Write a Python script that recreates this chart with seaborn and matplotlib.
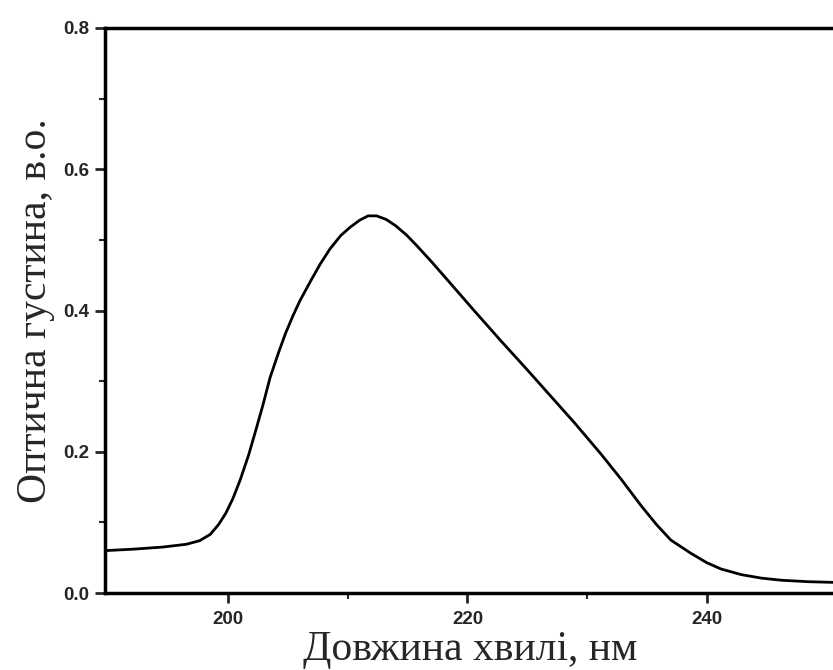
import matplotlib
matplotlib.use("Agg")
import matplotlib.pyplot as plt
from matplotlib.ticker import MultipleLocator, FixedLocator
import seaborn as sns
import pandas as pd

wavelength = [189.7, 192.0, 194.5, 196.5, 197.6, 198.5, 199.2, 199.8, 200.4, 201.0,
              201.7, 202.3, 202.9, 203.5, 204.2, 204.8, 205.4, 206.0, 206.9, 207.7,
              208.5, 209.4, 210.2, 211.0, 211.7, 212.4, 213.2, 214.0, 214.9, 215.7,
              217.0, 218.6, 220.5, 222.8, 225.0, 227.0, 229.0, 231.2, 232.9, 234.5,
              235.8, 237.0, 238.7, 240.0, 241.2, 242.9, 244.6, 246.3, 248.5, 250.7]
absorbance = [0.060, 0.062, 0.065, 0.069, 0.074, 0.083, 0.097, 0.113, 0.134, 0.160,
              0.195, 0.230, 0.266, 0.305, 0.340, 0.368, 0.392, 0.414, 0.442, 0.466,
              0.487, 0.506, 0.518, 0.528, 0.534, 0.534, 0.529, 0.520, 0.507, 0.493,
              0.469, 0.438, 0.401, 0.357, 0.316, 0.278, 0.240, 0.196, 0.160, 0.124,
              0.097, 0.075, 0.056, 0.043, 0.034, 0.026, 0.021, 0.018, 0.016, 0.015]
x_ticks = [200, 220, 240]
x_minor_ticks = [210, 230]
y_ticks = [0.0, 0.2, 0.4, 0.6, 0.8]
x_label = "Довжина хвилі, нм"
y_label = "Оптична густина, в.о."

df = pd.DataFrame({"wl": wavelength, "od": absorbance})

sns.set_style("ticks")
fig = plt.figure(figsize=(8.33, 6.70), dpi=100)
ax = fig.add_axes([105/833, 77/670, 1 - 105/833 + 0.002, (593-28)/670])

sns.lineplot(data=df, x="wl", y="od", ax=ax, color="black", linewidth=2.0)

ax.set_xlim(189.7, 250.7)
ax.set_ylim(0.0, 0.8)
ax.set_xticks(x_ticks)
ax.set_yticks(y_ticks)
ax.set_yticklabels([f"{v:.1f}" for v in y_ticks])
ax.xaxis.set_minor_locator(FixedLocator(x_minor_ticks))
ax.yaxis.set_minor_locator(MultipleLocator(0.1))

for s in ["left", "bottom", "top"]:
    ax.spines[s].set_linewidth(2.5)
    ax.spines[s].set_color("black")
ax.spines["right"].set_visible(False)

ax.tick_params(axis="both", which="major", direction="out", length=7, width=2,
               labelsize=13.5, pad=4)
ax.tick_params(axis="x", which="major", pad=6)
ax.tick_params(axis="both", which="minor", direction="out", length=4, width=1.5)
for lab in ax.get_xticklabels() + ax.get_yticklabels():
    lab.set_fontfamily("Liberation Sans")
    lab.set_fontweight("bold")

ax.set_xlabel(x_label, fontfamily="Liberation Serif", fontsize=30, labelpad=2)
ax.set_ylabel(y_label, fontfamily="Liberation Serif", fontsize=30, labelpad=6)

fig.savefig("out.png", dpi=100)
